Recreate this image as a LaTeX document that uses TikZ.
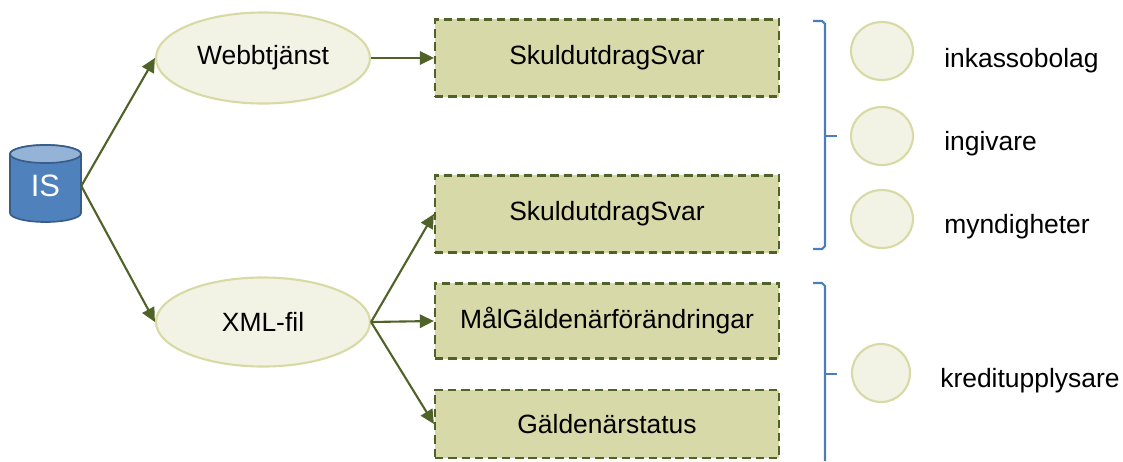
\documentclass[tikz,border=0pt]{standalone}
\usepackage{fontspec}
\setmainfont{Liberation Sans}
\usepackage{tikz}
\usetikzlibrary{shapes.geometric, arrows.meta}

\definecolor{arrowgreen}{HTML}{4F6228}
\definecolor{ovalfill}{HTML}{F2F3E4}
\definecolor{ovalline}{HTML}{D8DAA5}
\definecolor{msgfill}{HTML}{D8D9A8}
\definecolor{braceblue}{HTML}{4A7EBB}
\definecolor{cylbody}{HTML}{4F81BD}
\definecolor{cyltop}{HTML}{95B3D7}
\definecolor{cylline}{HTML}{385D8A}

\tikzset{
  oval/.style={ellipse, draw=ovalline, fill=ovalfill, line width=1.5pt, inner sep=0pt},
  msg/.style={rectangle, draw=arrowgreen, fill=msgfill, line width=1.5pt,
    dash pattern=on 6pt off 3.5pt, minimum width=8.6cm, minimum height=1.925cm},
  flow/.style={draw=arrowgreen, line width=1.5pt, -{Triangle[length=10pt,width=9.5pt]}},
  brace/.style={draw=braceblue, line width=1.5pt},
}

\begin{document}
\begin{tikzpicture}[x=0.025cm, y=-0.025cm, font=\fontsize{18.8}{22}\selectfont]
\useasboundingbox (0,0) rectangle (1123,461);

\draw[cylline, fill=cylbody, line width=1.2pt] (10,154) -- (10,213)
  arc[start angle=180, end angle=0, x radius=35.5, y radius=9] -- (81,154)
  arc[start angle=0, end angle=-180, x radius=35.5, y radius=9] -- cycle;
\draw[cylline, fill=cyltop, line width=1.2pt] (45.5,154) ellipse[x radius=35.5, y radius=9];
\node (is) [minimum width=1.775cm, minimum height=1.9cm, text=white,
  font=\fontsize{22}{26}\selectfont] at (45.5,186) {IS};

\node (web) [oval, minimum width=5.35cm, minimum height=2.275cm] at (263,58) {Webbtjänst};
\node (xml) [oval, minimum width=5.35cm, minimum height=2.225cm] at (263,322) {XML-fil};

\node (svar1) [msg] at (607,58) {SkuldutdragSvar};
\node (svar2) [msg] at (607,214) {SkuldutdragSvar};
\node (mal) [msg, minimum height=1.875cm] at (607,321) {MålGäldenärförändringar};
\node (status) [msg, minimum height=1.7cm] at (607,424) {Gäldenärstatus};

\draw[flow] (is.east) -- (web.west);
\draw[flow] (is.east) -- (xml.west);
\draw[flow] (web.east) -- (svar1.west);
\draw[flow] (xml.east) -- (svar2.west);
\draw[flow] (xml.east) -- (mal.west);
\draw[flow] (xml.east) -- (status.west);

\draw[brace] (813,21) -- (822,21) -- (825,24) -- (825,246) -- (822,249) -- (813,249);
\draw[brace] (825,136) -- (837,136);
\draw[brace] (813,283) -- (822,283) -- (825,286) -- (825,461);
\draw[brace] (825,374) -- (837,374);

\node (inkasso) [oval, minimum width=1.55cm, minimum height=1.45cm] at (882,51) {};
\node (ingiv) [oval, minimum width=1.55cm, minimum height=1.45cm] at (882,136) {};
\node (mynd) [oval, minimum width=1.55cm, minimum height=1.45cm] at (882,219) {};
\node (kredit) [oval, minimum width=1.45cm, minimum height=1.45cm] at (881,373) {};

\node (inkassotxt) [anchor=base west, inner sep=0pt] at (944,67) {inkassobolag};
\node (ingivtxt) [anchor=base west, inner sep=0pt] at (944,150) {ingivare};
\node (myndtxt) [anchor=base west, inner sep=0pt] at (944,233) {myndigheter};
\node (kredittxt) [anchor=base west, inner sep=0pt] at (940,387) {kreditupplysare};
\end{tikzpicture}
\end{document}
